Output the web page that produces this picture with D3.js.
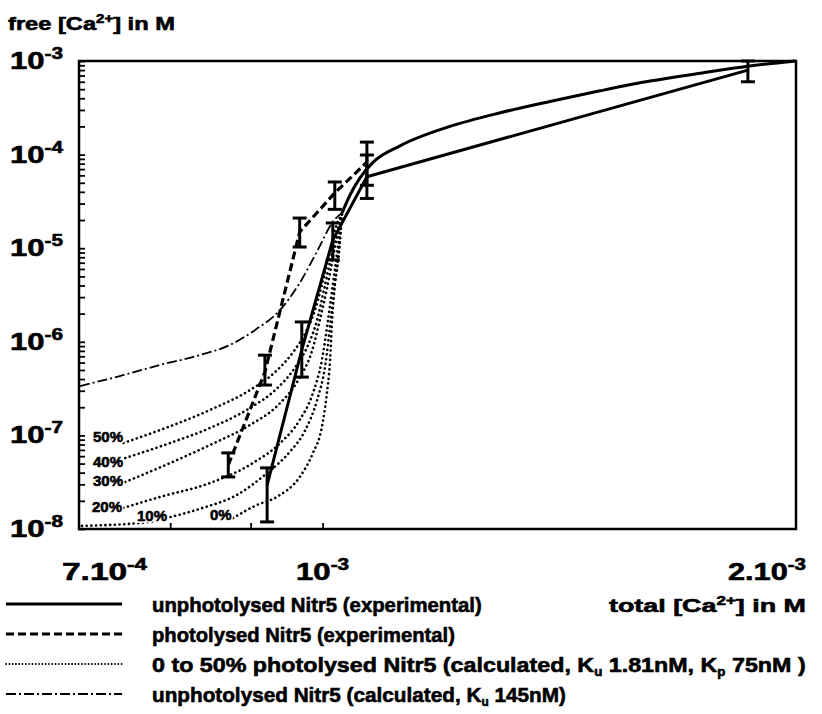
<!DOCTYPE html>
<html>
<head>
<meta charset="utf-8">
<script src="https://d3js.org/d3.v7.min.js"></script>
<style>
  body { margin: 0; background: #fff; }
  text { font-family: "Liberation Sans", Arial, sans-serif; font-weight: bold; fill: #000; }
  .heavy { stroke: #000; stroke-width: 0.6; }
</style>
</head>
<body>
<div id="chart"></div>
<script>
const width = 822, height = 714;
const plot = {left: 79, right: 796, top: 61, bottom: 529};

// ---- data (total Ca in M, free Ca in M) ----
// unphotolysed Nitr5, experimental
const unphotX  = [9.22e-4, 9.70e-4, 1.015e-3, 1.067e-3, 1.864e-3];
const unphotY  = [2.95e-8, 8.2e-7, 1.22e-5, 5.8e-5, 8.0e-4];
const unphotLo = [1.19e-8, 4.2e-7, 7.5e-6, 3.4e-5, 6.0e-4];
const unphotHi = [4.5e-8, 1.63e-6, 1.86e-5, 9.9e-5, 1.0e-3];

// photolysed Nitr5, experimental
const photX  = [8.71e-4, 9.19e-4, 9.67e-4, 1.018e-3, 1.067e-3];
const photY  = [4.83e-8, 4.76e-7, 1.49e-5, 3.9e-5, 8.3e-5];
const photLo = [3.6e-8, 3.45e-7, 1.03e-5, 2.6e-5, 4.7e-5];
const photHi = [6.5e-8, 7.2e-7, 2.1e-5, 5.1e-5, 1.36e-4];

// calculated, 0 to 50% photolysed (dotted)
const calc50X = [7.47e-4, 7.88e-4, 8.48e-4, 8.99e-4, 9.33e-4, 9.58e-4, 9.75e-4, 9.89e-4, 9.99e-4, 1.008e-3, 1.015e-3, 1.029e-3];
const calc50Y = [8.3e-8, 1.14e-7, 1.87e-7, 3.05e-7, 4.76e-7, 7.8e-7, 1.24e-6, 2.19e-6, 4.04e-6, 7.5e-6, 1.29e-5, 2.4e-5];
const calc40X = [7.49e-4, 8.00e-4, 8.48e-4, 8.99e-4, 9.33e-4, 9.60e-4, 9.79e-4, 9.92e-4, 1.002e-3, 1.011e-3, 1.020e-3, 1.029e-3];
const calc40Y = [5.73e-8, 8.3e-8, 1.2e-7, 1.96e-7, 3.05e-7, 5.25e-7, 9.24e-7, 1.71e-6, 3.58e-6, 7.1e-6, 1.29e-5, 2.4e-5];
const calc30X = [7.49e-4, 8.00e-4, 8.48e-4, 8.99e-4, 9.37e-4, 9.65e-4, 9.85e-4, 9.96e-4, 1.006e-3, 1.014e-3, 1.021e-3, 1.029e-3];
const calc30Y = [3.18e-8, 5.07e-8, 7.9e-8, 1.29e-7, 2.11e-7, 3.91e-7, 8.17e-7, 1.71e-6, 3.58e-6, 7.1e-6, 1.29e-5, 2.4e-5];
const calc20X = [7.47e-4, 7.88e-4, 8.48e-4, 9.03e-4, 9.40e-4, 9.67e-4, 9.86e-4, 9.99e-4, 1.008e-3, 1.015e-3, 1.021e-3, 1.029e-3];
const calc20Y = [1.68e-8, 2.2e-8, 3.1e-8, 5.07e-8, 8.3e-8, 1.46e-7, 2.84e-7, 6.39e-7, 1.71e-6, 4.04e-6, 8.46e-6, 2.4e-5];
const calc10X = [7.03e-4, 7.77e-4, 8.00e-4, 8.39e-4, 8.82e-4, 9.22e-4, 9.53e-4, 9.75e-4, 9.92e-4, 1.004e-3, 1.012e-3, 1.018e-3, 1.024e-3, 1.029e-3];
const calc10Y = [1.08e-8, 1.19e-8, 1.34e-8, 1.68e-8, 2.31e-8, 3.97e-8, 6.65e-8, 1.14e-7, 2.39e-7, 5.65e-7, 1.71e-6, 4.04e-6, 8.46e-6, 2.4e-5];
const calc0X = [8.77e-4, 9.08e-4, 9.35e-4, 9.67e-4, 9.86e-4, 9.99e-4, 1.006e-3, 1.011e-3, 1.014e-3, 1.018e-3, 1.023e-3, 1.029e-3];
const calc0Y = [1.31e-8, 1.80e-8, 2.2e-8, 3.59e-8, 6.49e-8, 1.23e-7, 2.7e-7, 6.39e-7, 1.71e-6, 4.04e-6, 8.46e-6, 2.4e-5];
const pctLabels = ["50%", "40%", "30%", "20%", "10%", "0%"];

// calculated, unphotolysed Ku 145nM (dash-dot)
const calcUX = [7.01e-4, 7.43e-4, 7.88e-4, 8.36e-4, 8.73e-4, 9.06e-4, 9.37e-4, 9.67e-4, 9.93e-4, 1.015e-3, 1.029e-3];
const calcUY = [3.37e-7, 4.31e-7, 5.65e-7, 7.23e-7, 9.24e-7, 1.34e-6, 2.08e-6, 4.25e-6, 9.57e-6, 1.91e-5, 2.4e-5];

// where all the calculated curves run together
const mergedX = [1.029e-3, 1.041e-3, 1.056e-3, 1.077e-3, 1.120e-3, 1.205e-3, 1.297e-3, 1.395e-3, 1.501e-3, 1.615e-3, 1.738e-3, 1.864e-3, 2.0e-3];
const mergedY = [2.4e-5, 3.7e-5, 5.6e-5, 8.3e-5, 1.24e-4, 2.0e-4, 2.8e-4, 3.7e-4, 4.8e-4, 6.1e-4, 7.4e-4, 8.8e-4, 1.0e-3];

// axis labels
const xLabelVals = [7e-4, 1e-3, 2e-3];
const xLabelMant = ["7.10", "10", "2.10"];
const xLabelExp  = ["-4", "-3", "-3"];
const xTickVals  = [8e-4, 9e-4, 1e-3];
const yDecades   = [-3, -4, -5, -6, -7, -8];

const legendText = [
  ["unphotolysed Nitr5 (experimental)"],
  ["photolysed Nitr5 (experimental)"],
  ["0 to 50% photolysed Nitr5 (calculated, K", "u", " 1.81nM, K", "p", " 75nM )"],
  ["unphotolysed Nitr5 (calculated, K", "u", " 145nM)"]
];

// ---- drawing ----
const svg = d3.select("#chart").append("svg")
  .attr("width", width).attr("height", height);

const x = d3.scaleLog().domain([7e-4, 2e-3]).range([plot.left, plot.right]);
const y = d3.scaleLog().domain([1e-8, 1e-3]).range([plot.bottom, plot.top]);

const zip = (a, b) => a.map((v, i) => [v, b[i]]);
const smooth = d3.line().x(d => x(d[0])).y(d => y(d[1])).curve(d3.curveMonotoneX);
const straight = d3.line().x(d => x(d[0])).y(d => y(d[1]));

// y ticks: every 1..9 of each decade
const yTicks = [];
for (let e = -8; e < -3; e++) for (let m = 1; m < 10; m++) yTicks.push(m * Math.pow(10, e));
yTicks.push(1e-3);

const yAxis = svg.append("g")
  .attr("transform", `translate(${plot.left},0)`)
  .call(d3.axisRight(y).tickValues(yTicks).tickSize(6).tickFormat(""));
yAxis.select(".domain").remove();
yAxis.selectAll("line").attr("stroke", "#000").attr("stroke-width", 1.8);

const xAxis = svg.append("g")
  .attr("transform", `translate(0,${plot.bottom})`)
  .call(d3.axisTop(x).tickValues(xTickVals).tickSize(6).tickFormat(""));
xAxis.select(".domain").remove();
xAxis.selectAll("line").attr("stroke", "#000").attr("stroke-width", 1.8);

// frame
svg.append("rect")
  .attr("x", plot.left).attr("y", plot.top)
  .attr("width", plot.right - plot.left).attr("height", plot.bottom - plot.top)
  .attr("fill", "none").attr("stroke", "#000").attr("stroke-width", 2.5);

// styles
const dotted = {w: 2.6, dash: "0.1 4.6", cap: "round"};
const dashdot = {w: 1.8, dash: "10 3 2 3", cap: "butt"};
const dashed = {w: 3.2, dash: "8 4", cap: "butt"};
const solid = {w: 3, dash: null, cap: "butt"};

function drawPath(d, st) {
  svg.append("path").attr("d", d)
    .attr("fill", "none").attr("stroke", "#000")
    .attr("stroke-width", st.w)
    .attr("stroke-dasharray", st.dash)
    .attr("stroke-linecap", st.cap)
    .attr("stroke-linejoin", "round");
}

const calcCurves = [
  zip(calc50X, calc50Y), zip(calc40X, calc40Y), zip(calc30X, calc30Y),
  zip(calc20X, calc20Y), zip(calc10X, calc10Y), zip(calc0X, calc0Y)
];
calcCurves.forEach(c => drawPath(smooth(c), dotted));
drawPath(smooth(zip(calcUX, calcUY)), dashdot);
drawPath(smooth(zip(mergedX, mergedY)), solid);

// experimental lines
drawPath(straight(zip(photX, photY)), dashed);
drawPath(straight(zip(unphotX, unphotY)), solid);

// error bars
function errorBars(xs, lo, hi) {
  const g = svg.append("g").attr("stroke", "#000");
  xs.forEach((v, i) => {
    const cx = x(v), y0 = y(lo[i]), y1 = y(hi[i]);
    g.append("line").attr("x1", cx).attr("x2", cx).attr("y1", y0).attr("y2", y1).attr("stroke-width", 3);
    [y0, y1].forEach(yy => g.append("line")
      .attr("x1", cx - 7).attr("x2", cx + 7).attr("y1", yy).attr("y2", yy).attr("stroke-width", 3));
  });
}
errorBars(unphotX, unphotLo, unphotHi);
errorBars(photX, photLo, photHi);

// percent labels on the dotted curves: white knock-out, then heavy black text
const pctPos = [[93, 442], [93, 467], [93, 486], [92, 512], [137, 521], [210, 520]];
pctLabels.forEach((t, i) => {
  svg.append("text").attr("x", pctPos[i][0]).attr("y", pctPos[i][1])
    .attr("font-size", 15)
    .attr("fill", "#fff").attr("stroke", "#fff").attr("stroke-width", 3.5)
    .text(t);
  svg.append("text").attr("x", pctPos[i][0]).attr("y", pctPos[i][1])
    .attr("font-size", 15).attr("class", "heavy")
    .text(t);
});

// squeeze a text to a given span
function fit(t, x0, x1, yb) {
  const w = t.node().getComputedTextLength();
  t.attr("transform", `translate(${x0},${yb}) scale(${(x1 - x0) / w},1)`);
}

// y tick labels
yDecades.forEach(e => {
  const t = svg.append("text").attr("class", "heavy");
  t.append("tspan").attr("font-size", 24).text("10");
  t.append("tspan").attr("font-size", 16).attr("dy", -10).text("-" + Math.abs(e));
  fit(t, 10, 63, y(Math.pow(10, e)) + 8);
});

// x tick labels
const xSpan = [[62, 147], [297, 350], [728, 806]];
xLabelVals.forEach((v, i) => {
  const t = svg.append("text").attr("class", "heavy");
  t.append("tspan").attr("font-size", 24).text(xLabelMant[i]);
  t.append("tspan").attr("font-size", 16).attr("dy", -10).text(xLabelExp[i]);
  // centred on the tick for 10^-3; the end labels sit inside the page
  const c = x(v), half = (xSpan[i][1] - xSpan[i][0]) / 2;
  const x0 = i === 1 ? c - half : xSpan[i][0];
  fit(t, x0, x0 + 2 * half, 580);
});

function caLabel(parts) {
  const t = svg.append("text").attr("font-size", 19).attr("class", "heavy");
  t.append("tspan").text(parts[0]);
  t.append("tspan").attr("font-size", 12).attr("dy", -7).text("2+");
  t.append("tspan").attr("dy", 7).text(parts[1]);
  return t;
}
fit(caLabel(["free [Ca", "] in M"]), 8, 175, 30);
fit(caLabel(["total [Ca", "] in M"]), 609, 806, 612);

// legend
const legendY = [604, 634, 664, 694];
const legendEnd = [482, 455, 806, 566];
const legendStyles = [solid, dashed, {w: 1.8, dash: "0.1 3.2", cap: "round"}, dashdot];
legendText.forEach((parts, i) => {
  const ly = legendY[i];
  drawPath(`M6,${ly}H122`, legendStyles[i]);
  const t = svg.append("text").attr("font-size", 21).attr("class", "heavy");
  parts.forEach((p, j) => {
    const sub = j % 2 === 1;
    t.append("tspan")
      .attr("font-size", sub ? 12 : 21)
      .attr("dy", sub ? 4 : (j > 0 ? -4 : 0))
      .text(p);
  });
  fit(t, 152, legendEnd[i], ly + 8);
});
</script>
</body>
</html>
